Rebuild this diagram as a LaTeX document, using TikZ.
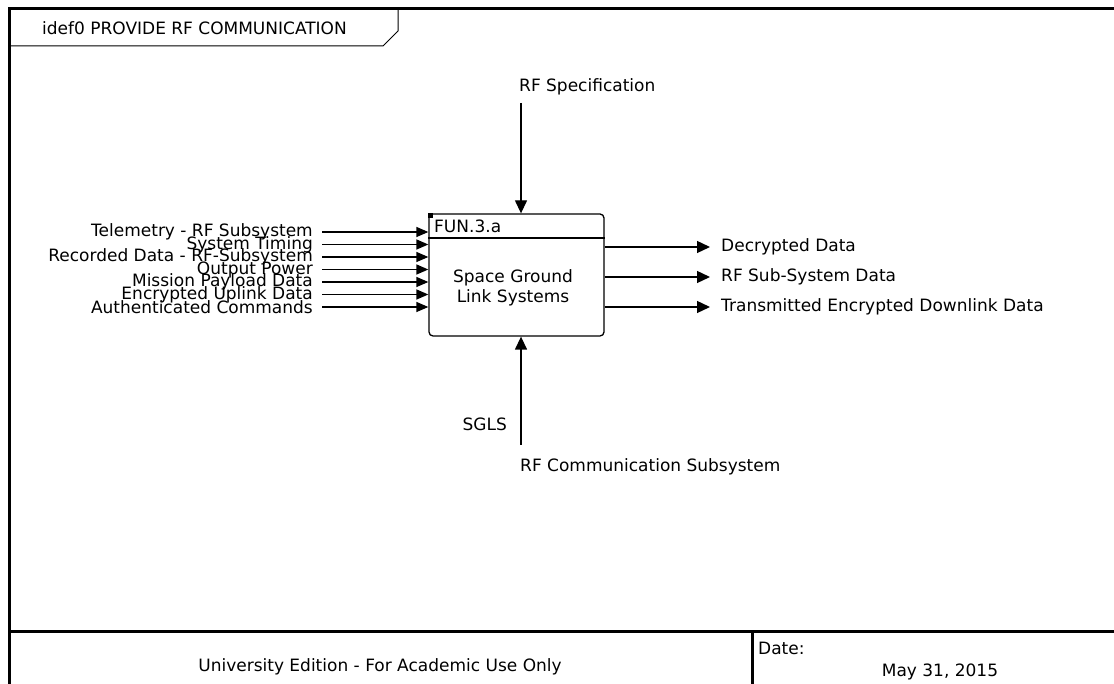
\documentclass[tikz,border=0pt]{standalone}
\usepackage{fontspec}
\setmainfont{DejaVu Sans}
\usetikzlibrary{arrows.meta}
\begin{document}
\begin{tikzpicture}[x=1pt, y=-1pt,
    lbl/.style={inner sep=0pt, font=\fontsize{17}{19.5}\selectfont},
    flow/.style={-{Triangle[length=13pt, width=12pt]}, line width=1.3pt},
    inflow/.style={-{Triangle[length=12pt, width=10pt]}, line width=1.3pt}]
    \useasboundingbox (0,0) rectangle (1114,684);
    \fill [white] (0,0) rectangle (1114,684);

    \draw [line width=3pt] (9,690) -- (9,9) -- (1120,9);
    \draw [line width=3pt] (9,631) -- (1120,631);
    \draw [line width=3pt] (752,631) -- (752,690);
    \draw [line width=1pt] (9,46) -- (383,46) -- (398,31) -- (398,9);
    \node [lbl, anchor=west] (title) at (42,28) {idef0 PROVIDE RF COMMUNICATION};

    \node [draw, rounded corners=4pt, line width=1.3pt, minimum width=175pt, minimum height=122pt, inner sep=0pt] (fun) at (516.5,275) {};
    \coordinate (hdr) at (0,238);
    \draw [line width=1.3pt] (fun.west |- hdr) -- (fun.east |- hdr);
    \fill (fun.north west) rectangle ++(5,5);
    \node [lbl, anchor=west] (funid) at (434,226) {FUN.3.a};
    \node [lbl, align=center] (funname) at (513,288) {Space Ground\\Link Systems};

    \node [lbl, anchor=east] (tele) at (313,232) {Telemetry - RF Subsystem};
    \node [lbl, anchor=east] (timing) at (313,244.5) {System Timing};
    \node [lbl, anchor=east] (rec) at (313,257) {Recorded Data - RF-Subsystem};
    \node [lbl, anchor=east] (power) at (313,269.5) {Output Power};
    \node [lbl, anchor=east] (payload) at (313,282) {Mission Payload Data};
    \node [lbl, anchor=east] (uplink) at (313,294.5) {Encrypted Uplink Data};
    \node [lbl, anchor=east] (cmds) at (313,307) {Authenticated Commands};

    \coordinate (i1) at (322,232);
    \coordinate (i2) at (322,244.5);
    \coordinate (i3) at (322,257);
    \coordinate (i4) at (322,269.5);
    \coordinate (i5) at (322,282);
    \coordinate (i6) at (322,294.5);
    \coordinate (i7) at (322,307);

    \begin{scope}[inflow]
        \draw (i1) -- (i1 -| fun.west);
        \draw (i2) -- (i2 -| fun.west);
        \draw (i3) -- (i3 -| fun.west);
        \draw (i4) -- (i4 -| fun.west);
        \draw (i5) -- (i5 -| fun.west);
        \draw (i6) -- (i6 -| fun.west);
        \draw (i7) -- (i7 -| fun.west);
    \end{scope}

    \coordinate (o1) at (710,247);
    \coordinate (o2) at (710,277);
    \coordinate (o3) at (710,307);
    \node [lbl, anchor=west] (decr) at (721,247) {Decrypted Data};
    \node [lbl, anchor=west] (subsys) at (721,277) {RF Sub-System Data};
    \node [lbl, anchor=west] (downlink) at (721,307) {Transmitted Encrypted Downlink Data};

    \coordinate (c1) at (521,103);
    \coordinate (m1) at (521,445);
    \node [lbl, anchor=west] (spec) at (519,87) {RF Specification};
    \node [lbl, anchor=east] (sgls) at (507,424) {SGLS};
    \node [lbl, anchor=west] (comm) at (520,467) {RF Communication Subsystem};

    \begin{scope}[flow]
        \draw (fun.east |- o1) -- (o1);
        \draw (fun.east |- o2) -- (o2);
        \draw (fun.east |- o3) -- (o3);
        \draw (c1) -- (c1 |- fun.north);
        \draw (m1) -- (m1 |- fun.south);
    \end{scope}

    \node [lbl] (edition) at (380,667) {University Edition - For Academic Use Only};
    \node [lbl, anchor=west] (datelbl) at (758,648) {Date:};
    \node [lbl] (date) at (940,672) {May 31, 2015};
\end{tikzpicture}
\end{document}
